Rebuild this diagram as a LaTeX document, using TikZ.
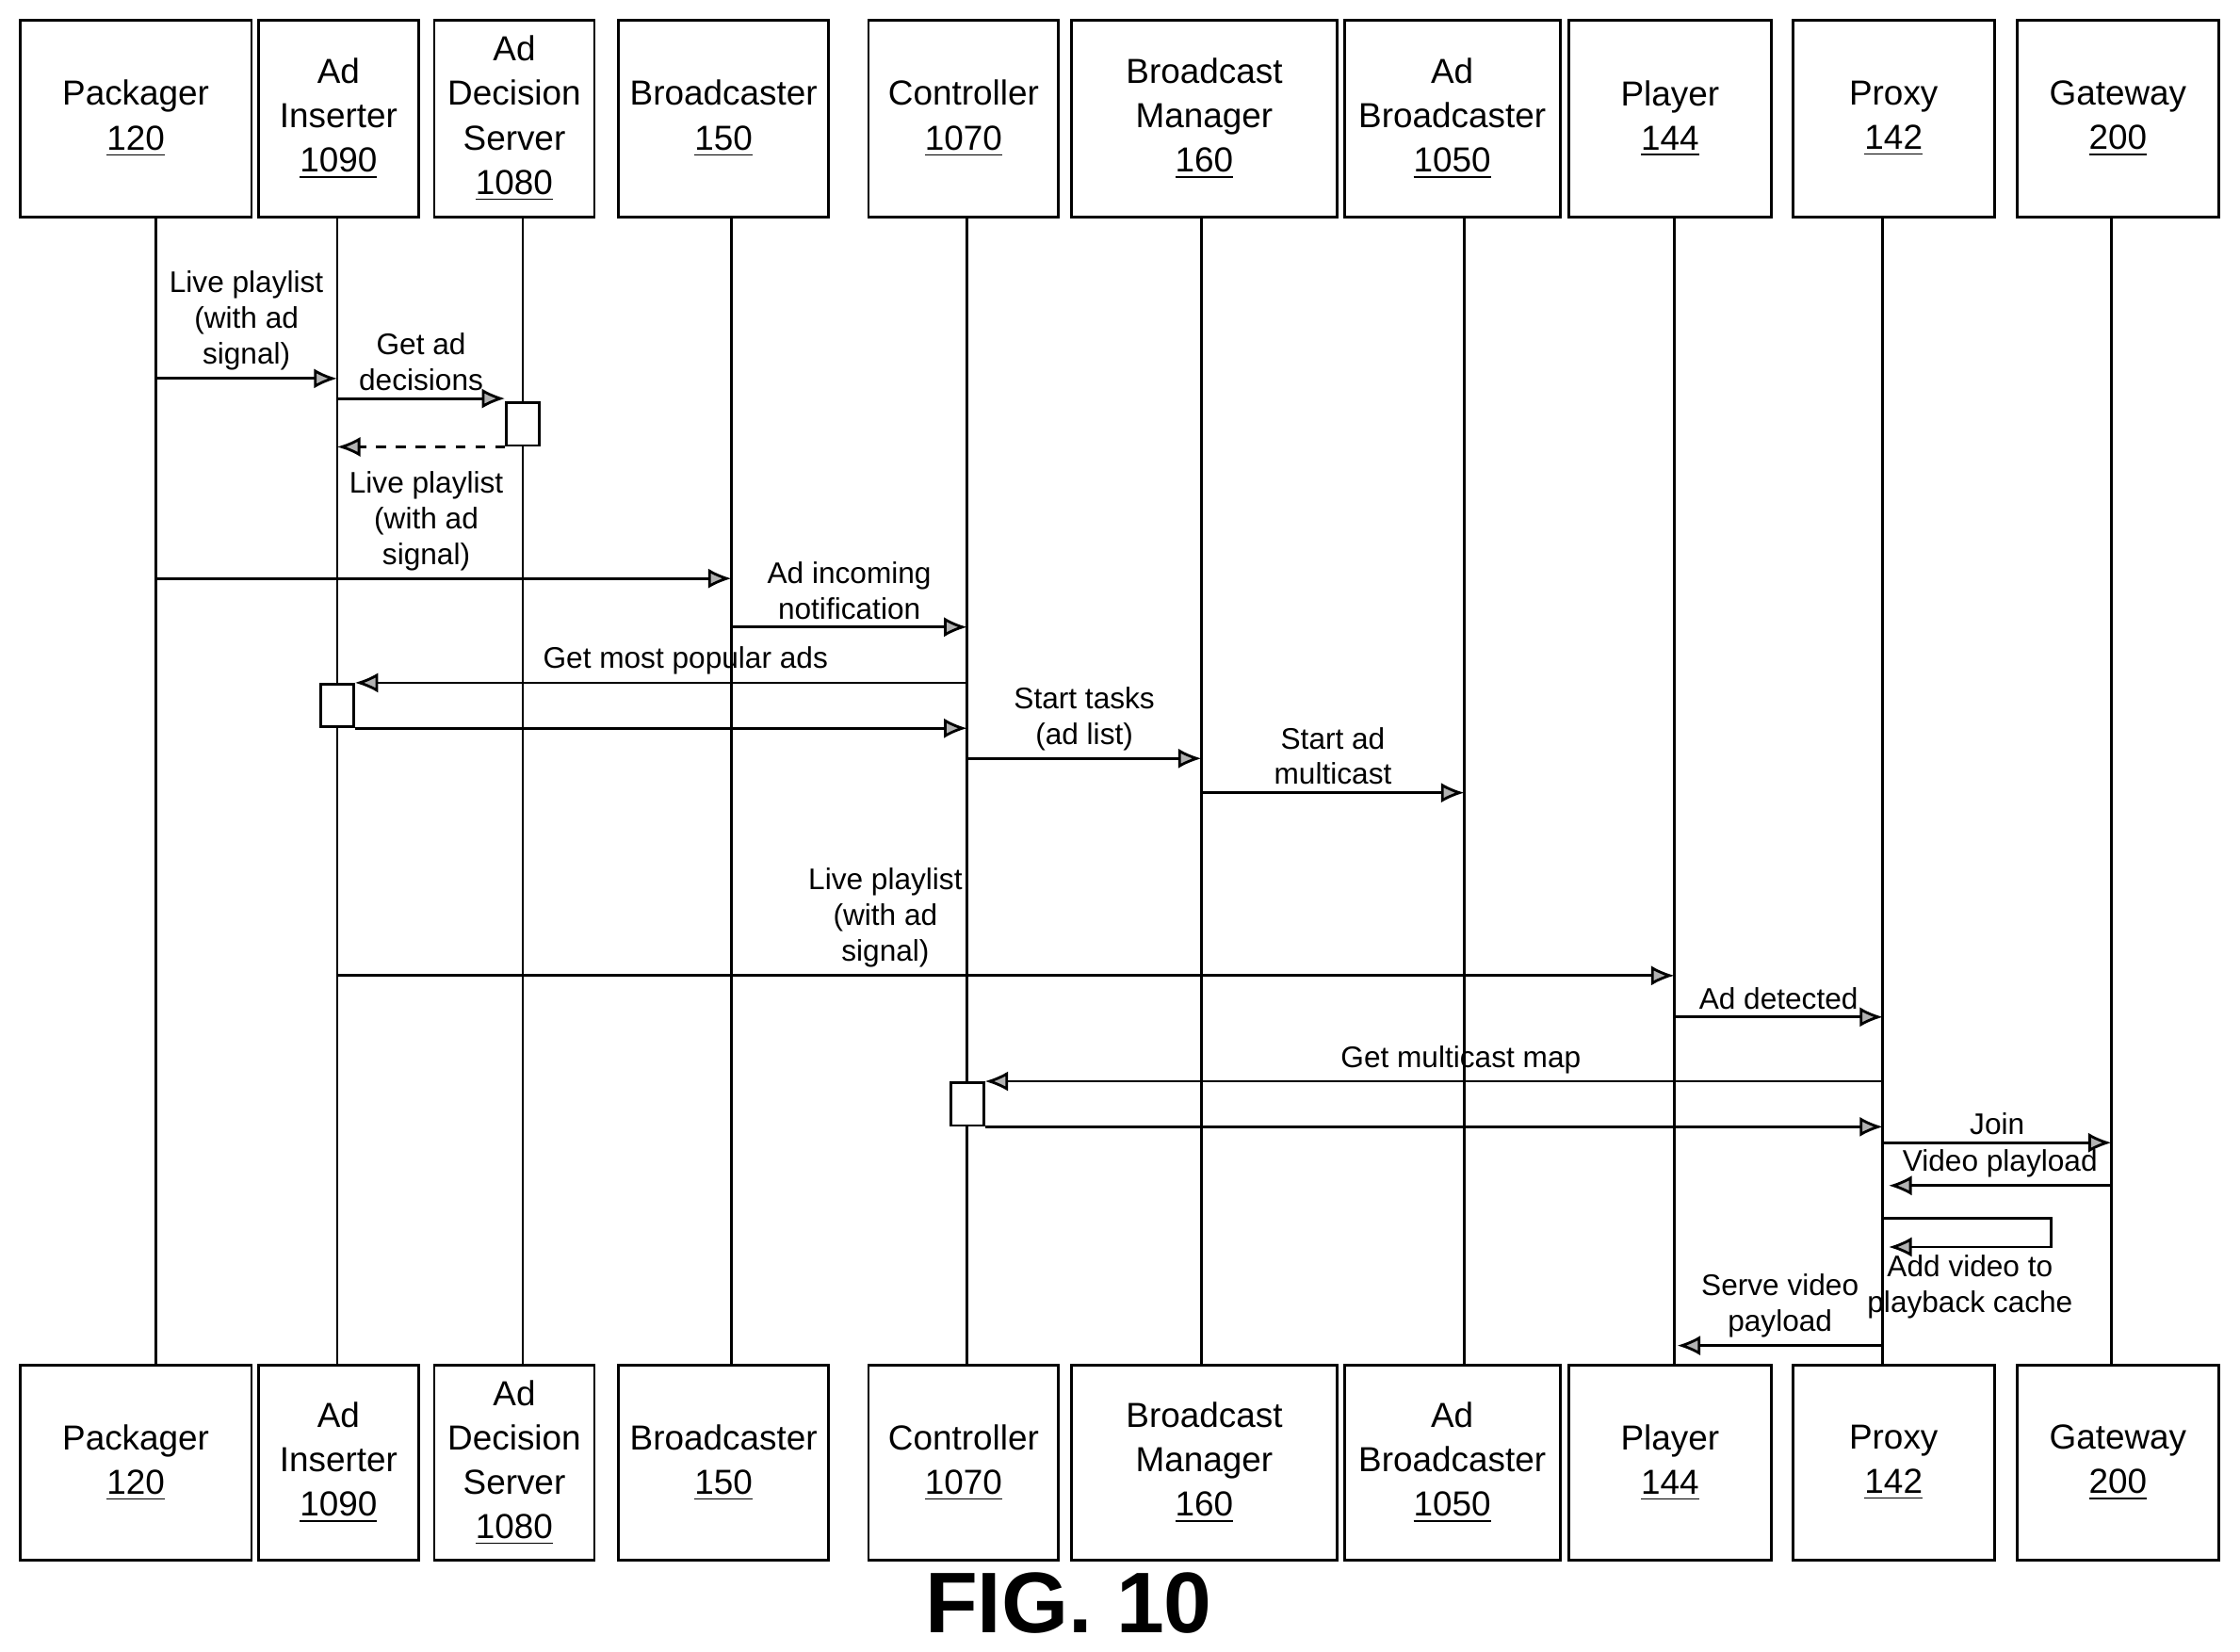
\documentclass[tikz,border=0pt]{standalone}
\usepackage{fontspec}
\setmainfont{Liberation Sans}
\usetikzlibrary{arrows.meta}
\usetikzlibrary{positioning}
\def\u{0.1517mm}

\begin{document}
\begin{tikzpicture}[x=\u, y=-\u, >={Latex[length=7pt,width=6pt,open,fill=gray!60]}, line width=0.8pt]
  \tikzset{box/.style={draw, align=center, inner sep=0pt, font=\fontsize{10.5}{13.4}\selectfont},
           act/.style={draw, fill=white, minimum width=23*\u, minimum height=30*\u, inner sep=0pt},
           msg/.style={->},
           ret/.style={->, dashed},
           lbl/.style={above, align=center, inner sep=2pt, font=\fontsize{9}{10.8}\selectfont}}
  \useasboundingbox (0,0) rectangle (1568,1156);

  %--- participants (top and bottom) ---
  \foreach \n/\xl/\xr/\t in {pkg/14/176/{Packager\\\underline{120}},
      adi/181/293/{Ad\\Inserter\\\underline{1090}},
      ads/304/416/{Ad\\Decision\\Server\\\underline{1080}},
      bc/433/580/{Broadcaster\\\underline{150}},
      ctl/608/741/{Controller\\\underline{1070}},
      bm/750/936/{Broadcast\\Manager\\\underline{160}},
      ab/941/1092/{Ad\\Broadcaster\\\underline{1050}},
      ply/1098/1240/{Player\\\underline{144}},
      prx/1255/1396/{Proxy\\\underline{142}},
      gw/1412/1553/{Gateway\\\underline{200}}}{
    \node[box, minimum width={(\xr-\xl)*\u}, minimum height=138*\u] (\n T) at ({(\xl+\xr)/2},83) {\t};
    \node[box, minimum width={(\xr-\xl)*\u}, minimum height=136*\u] (\n B) at ({(\xl+\xr)/2},1024) {\t};
  }

  %--- lifelines ---
  \foreach \n/\x in {pkg/109, adi/236, ads/366, bc/512, ctl/677, bm/841, ab/1025, ply/1172, prx/1318, gw/1478}{
    \coordinate (\n) at (\x,0);
    \draw (\n |- \n T.south) -- (\n |- \n B.north);
  }

  %--- activation boxes ---
  \node[act, anchor=north] (adsA) at (ads |- 0,281) {};
  \node[act, anchor=north] (adiA) at (adi |- 0,478) {};
  \node[act, anchor=north] (ctlA) at (ctl |- 0,757) {};

  %--- messages ---
  \draw[msg] (pkg |- 0,265) -- node[lbl] {Live playlist\\(with ad\\signal)} (adi |- 0,265);
  \draw[msg] (adi |- 0,279) -- node[lbl] {Get ad\\decisions} (adsA.west |- 0,279);
  \draw[ret] (adsA.south west) -- (adi |- adsA.south);
  \draw[msg] (pkg |- 0,405) -- node[lbl, pos=0.47] {Live playlist\\(with ad\\signal)} (bc |- 0,405);
  \draw[msg] (bc |- 0,439) -- node[lbl] {Ad incoming\\notification} (ctl |- 0,439);
  \draw[msg] (ctl |- adiA.north) -- node[lbl, pos=0.46] {Get most popular ads} (adiA.north east);
  \draw[msg] (adiA.south east) -- (ctl |- adiA.south);
  \draw[msg] (ctl |- 0,531) -- node[lbl] {Start tasks\\(ad list)} (bm |- 0,531);
  \draw[msg] (bm |- 0,555) -- node[lbl] {Start ad\\multicast} (ab |- 0,555);
  \draw[msg] (adi |- 0,683) -- node[lbl, pos=0.41] {Live playlist\\(with ad\\signal)} (ply |- 0,683);
  \draw[msg] (ply |- 0,712) -- node[lbl] {Ad detected} (prx |- 0,712);
  \draw[msg] (prx |- ctlA.north) -- node[lbl, pos=0.47] {Get multicast map} (ctlA.north east);
  \draw[msg] (ctlA.south east) -- (prx |- ctlA.south);
  \draw[msg] (prx |- 0,800) -- node[lbl] {Join} (gw |- 0,800);
  \draw[msg] (gw |- 0,830) -- node[lbl] {Video playload} ([xshift=4*\u]prx |- 0,830);
  \draw[msg] (prx |- 0,853) -| ++(118,20)
     -- node[below, align=center, inner sep=2pt, font=\fontsize{9}{10.8}\selectfont] {Add video to\\playback cache} ([xshift=4*\u]prx |- 0,873);
  \draw[msg] (prx |- 0,942) -- node[lbl] {Serve video\\payload} ([xshift=2*\u]ply |- 0,942);

  \node[font=\fontsize{26}{26}\selectfont\bfseries] (fig) at (748,1122) {FIG. 10};
\end{tikzpicture}
\end{document}
